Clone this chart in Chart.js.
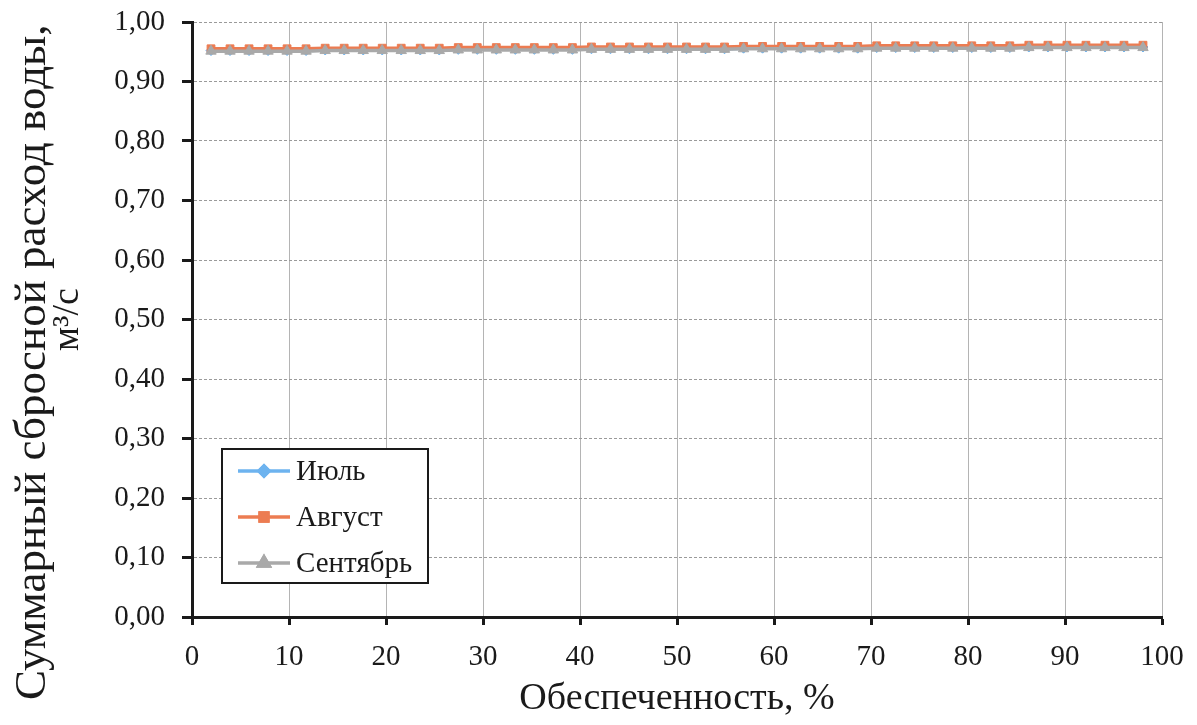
<!DOCTYPE html>
<html>
<head>
<meta charset="utf-8">
<script src="https://cdn.jsdelivr.net/npm/chart.js@4.4.1/dist/chart.umd.min.js"></script>
<style>
  html, body { margin: 0; padding: 0; background: #ffffff; }
  #wrap { width: 1197px; height: 725px; }
</style>
</head>
<body>
<div id="wrap"><canvas id="chart" width="1197" height="725"></canvas></div>
<script>
// Обеспеченность, % (эмпирическая, m/(n+1))
const provision = [
  1.96, 3.92, 5.88, 7.84, 9.80, 11.76, 13.73, 15.69, 17.65, 19.61,
  21.57, 23.53, 25.49, 27.45, 29.41, 31.37, 33.33, 35.29, 37.25, 39.22,
  41.18, 43.14, 45.10, 47.06, 49.02, 50.98, 52.94, 54.90, 56.86, 58.82,
  60.78, 62.75, 64.71, 66.67, 68.63, 70.59, 72.55, 74.51, 76.47, 78.43,
  80.39, 82.35, 84.31, 86.27, 88.24, 90.20, 92.16, 94.12, 96.08, 98.04
];

// Суммарный сбросной расход воды, м3/с
const july = [
  0.952, 0.952, 0.952, 0.952, 0.952, 0.952, 0.953, 0.953, 0.953, 0.953,
  0.953, 0.953, 0.953, 0.954, 0.954, 0.954, 0.954, 0.954, 0.954, 0.954,
  0.955, 0.955, 0.955, 0.955, 0.955, 0.955, 0.955, 0.955, 0.956, 0.956,
  0.956, 0.956, 0.956, 0.956, 0.956, 0.957, 0.957, 0.957, 0.957, 0.957,
  0.957, 0.957, 0.957, 0.958, 0.958, 0.958, 0.958, 0.958, 0.958, 0.958
];
const august = [
  0.955, 0.955, 0.955, 0.955, 0.955, 0.955, 0.956, 0.956, 0.956, 0.956,
  0.956, 0.956, 0.956, 0.957, 0.957, 0.957, 0.957, 0.957, 0.957, 0.957,
  0.958, 0.958, 0.958, 0.958, 0.958, 0.958, 0.958, 0.958, 0.959, 0.959,
  0.959, 0.959, 0.959, 0.959, 0.959, 0.960, 0.960, 0.960, 0.960, 0.960,
  0.960, 0.960, 0.960, 0.961, 0.961, 0.961, 0.961, 0.961, 0.961, 0.961
];
const september = [
  0.951, 0.951, 0.951, 0.951, 0.951, 0.951, 0.952, 0.952, 0.952, 0.952,
  0.952, 0.952, 0.952, 0.953, 0.953, 0.953, 0.953, 0.953, 0.953, 0.953,
  0.954, 0.954, 0.954, 0.954, 0.954, 0.954, 0.954, 0.954, 0.955, 0.955,
  0.955, 0.955, 0.955, 0.955, 0.955, 0.956, 0.956, 0.956, 0.956, 0.956,
  0.956, 0.956, 0.956, 0.957, 0.957, 0.957, 0.957, 0.957, 0.957, 0.957
];

const seriesNames = ['Июль', 'Август', 'Сентябрь'];
const xTitle = 'Обеспеченность, %';
const yTitleLines = ['Суммарный сбросной расход воды,', 'м³/с'];

const SERIF = "'Liberation Serif', 'Times New Roman', serif";
const toPoints = (vals) => vals.map((v, i) => ({ x: provision[i], y: v }));

const styles = [
  { color: '#6db3ef', point: 'rectRot', radius: 5 },
  { color: '#ec7c52', point: 'rect', radius: 5.5 },
  { color: '#a9a9a9', point: 'triangle', radius: 6 }
];

// Vertical axis title: two rotated lines at the left edge
const yAxisTitle = {
  id: 'yAxisTitle',
  afterDraw(chart) {
    const ctx = chart.ctx;
    ctx.save();
    ctx.fillStyle = '#1a1a1a';
    ctx.textBaseline = 'alphabetic';
    // first line, read bottom to top
    ctx.save();
    ctx.translate(45, 700);
    ctx.rotate(-Math.PI / 2);
    ctx.font = "45px " + SERIF;
    ctx.textAlign = 'left';
    ctx.fillText(yTitleLines[0], 0, 0);
    ctx.restore();
    // second line, centred on the axis
    ctx.save();
    ctx.translate(78, (chart.chartArea.top + chart.chartArea.bottom) / 2);
    ctx.rotate(-Math.PI / 2);
    ctx.font = "38px " + SERIF;
    ctx.textAlign = 'center';
    ctx.fillText(yTitleLines[1], 0, 0);
    ctx.restore();
    ctx.restore();
  }
};

// Legend box drawn inside the plot area, lower-left
const boxLegend = {
  id: 'boxLegend',
  afterDraw(chart) {
    const ctx = chart.ctx;
    const area = chart.chartArea;
    const x0 = area.left + 30, y0 = area.top + 427, w = 206, h = 134;
    ctx.save();
    ctx.fillStyle = '#ffffff';
    ctx.fillRect(x0, y0, w, h);
    ctx.strokeStyle = '#1a1a1a';
    ctx.lineWidth = 2;
    ctx.strokeRect(x0, y0, w, h);
    ctx.font = "29px " + SERIF;
    ctx.textBaseline = 'middle';
    ctx.textAlign = 'left';
    chart.data.datasets.forEach((ds, i) => {
      const cy = y0 + 22 + i * 46;
      ctx.strokeStyle = ds.borderColor;
      ctx.lineWidth = 3.5;
      ctx.beginPath();
      ctx.moveTo(x0 + 16, cy);
      ctx.lineTo(x0 + 68, cy);
      ctx.stroke();
      Chart.helpers.drawPoint(ctx, {
        pointStyle: ds.pointStyle,
        radius: ds.pointRadius,
        rotation: 0,
        borderWidth: 1
      }, x0 + 42, cy);
      ctx.fillStyle = ds.borderColor;
      ctx.strokeStyle = ds.borderColor;
      ctx.fill();
      ctx.stroke();
      ctx.fillStyle = '#1a1a1a';
      ctx.fillText(ds.label, x0 + 74, cy + 1);
    });
    ctx.restore();
  }
};

const datasets = [july, august, september].map((vals, i) => ({
  label: seriesNames[i],
  data: toPoints(vals),
  borderColor: styles[i].color,
  backgroundColor: styles[i].color,
  pointBackgroundColor: styles[i].color,
  pointBorderColor: styles[i].color,
  pointStyle: styles[i].point,
  pointRadius: styles[i].radius,
  pointBorderWidth: 1,
  borderWidth: 3.5,
  tension: 0,
  order: 2 - i
}));

new Chart(document.getElementById('chart'), {
  type: 'line',
  data: { datasets },
  options: {
    responsive: false,
    animation: false,
    devicePixelRatio: 1,
    layout: { padding: { top: 22, right: 35, left: 0, bottom: 0 } },
    plugins: {
      legend: { display: false },
      tooltip: { enabled: false }
    },
    scales: {
      x: {
        type: 'linear',
        min: 0,
        max: 100,
        afterFit(s) { s.height = 108; s.paddingLeft = 0; s.paddingRight = 0; },
        ticks: {
          stepSize: 10,
          color: '#1a1a1a',
          padding: 15,
          maxRotation: 0,
          font: { family: SERIF, size: 29 }
        },
        grid: {
          color: '#b4b4b4',
          lineWidth: 1,
          tickColor: '#1a1a1a',
          tickWidth: 3,
          tickLength: 8
        },
        border: { display: true, color: '#1a1a1a', width: 3 },
        title: {
          display: true,
          text: xTitle,
          color: '#1a1a1a',
          font: { family: SERIF, size: 38, lineHeight: 1.0 },
          padding: { top: 0, bottom: 7 }
        }
      },
      y: {
        type: 'linear',
        min: 0,
        max: 1,
        afterFit(s) { s.width = 192; s.paddingTop = 0; s.paddingBottom = 0; },
        ticks: {
          stepSize: 0.1,
          color: '#1a1a1a',
          padding: 17,
          font: { family: SERIF, size: 29 },
          callback: (v) => Number(v).toFixed(2).replace('.', ',')
        },
        grid: {
          color: '#9a9a9a',
          lineWidth: 1,
          tickColor: '#1a1a1a',
          tickWidth: 3,
          tickLength: 10
        },
        border: { display: true, color: '#1a1a1a', width: 3, dash: [3, 2] },
        title: { display: false }
      }
    }
  },
  plugins: [boxLegend, yAxisTitle]
});
</script>
</body>
</html>
